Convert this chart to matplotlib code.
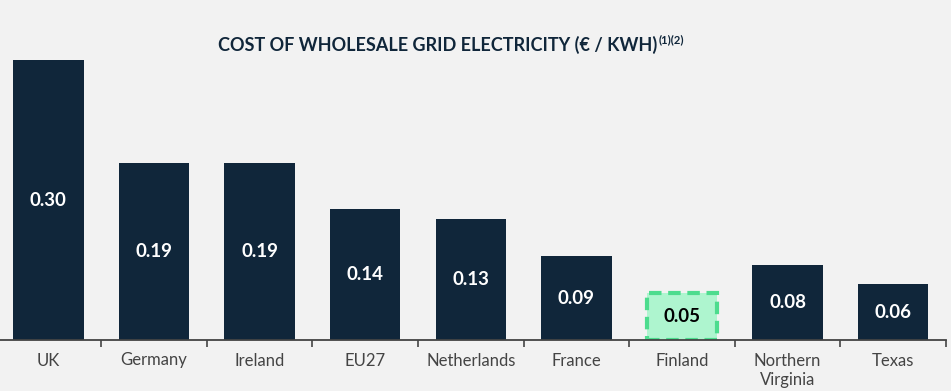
import matplotlib.pyplot as plt
import numpy as np

countries = ["UK", "Germany", "Ireland", "EU27", "Netherlands", "France",
             "Finland", "Northern\nVirginia", "Texas"]
costs = [0.30, 0.19, 0.19, 0.14, 0.13, 0.09, 0.05, 0.08, 0.06]
highlight = "Finland"

navy = "#10263a"
bg = "#f2f2f2"

plt.rcParams['font.family'] = ['Lato', 'DejaVu Sans']

fig = plt.figure(figsize=(9.51, 3.91), dpi=100, facecolor=bg)
ax = fig.add_axes([-4.4 / 951, 51 / 391, 950.4 / 951, 311 / 391])
ax.set_facecolor(bg)

x = np.arange(len(countries))
for i, (name, val) in enumerate(zip(countries, costs)):
    if name == highlight:
        ax.bar(i, val, width=0.665, color="#aef5cf", edgecolor="#4ddc8e",
               linewidth=3, linestyle=(0, (3, 1.6)), zorder=2)
        tc = "black"
    else:
        ax.bar(i, val, width=0.665, color=navy, zorder=2)
        tc = "white"
    ax.text(i, val / 2, f"{val:.2f}", ha="center", va="center", color=tc,
            fontsize=13.5, fontweight="bold")

ax.set_xlim(-0.5, len(countries) - 0.5)
ax.set_ylim(0, 0.30 * 311 / 280)

for s in ["top", "left", "right"]:
    ax.spines[s].set_visible(False)
ax.spines["bottom"].set_color("#444444")
ax.spines["bottom"].set_linewidth(1.3)
ax.set_yticks([])

ax.set_xticks(x)
ax.set_xticklabels(countries, fontsize=12, color="#444444", linespacing=1.25)
ax.tick_params(axis="x", which="major", length=0, pad=9)
ax.set_xticks(np.arange(0.5, len(countries), 1.0), minor=True)
ax.tick_params(axis="x", which="minor", length=5, width=1.2, color="#444444")

# title with small superscript notes
title = fig.text(218 / 951, 1 - 45 / 391, "COST OF WHOLESALE GRID ELECTRICITY (€ / KWH)",
                 ha="left", va="center", fontsize=13, fontweight="bold", color=navy)
fig.canvas.draw()
bb = title.get_window_extent().transformed(fig.transFigure.inverted())
fig.text(bb.x1 + 0.001, 1 - 40 / 391, "(1)(2)", ha="left", va="center",
         fontsize=8, fontweight="bold", color=navy)

fig.savefig("out.png", dpi=100, facecolor=bg)
